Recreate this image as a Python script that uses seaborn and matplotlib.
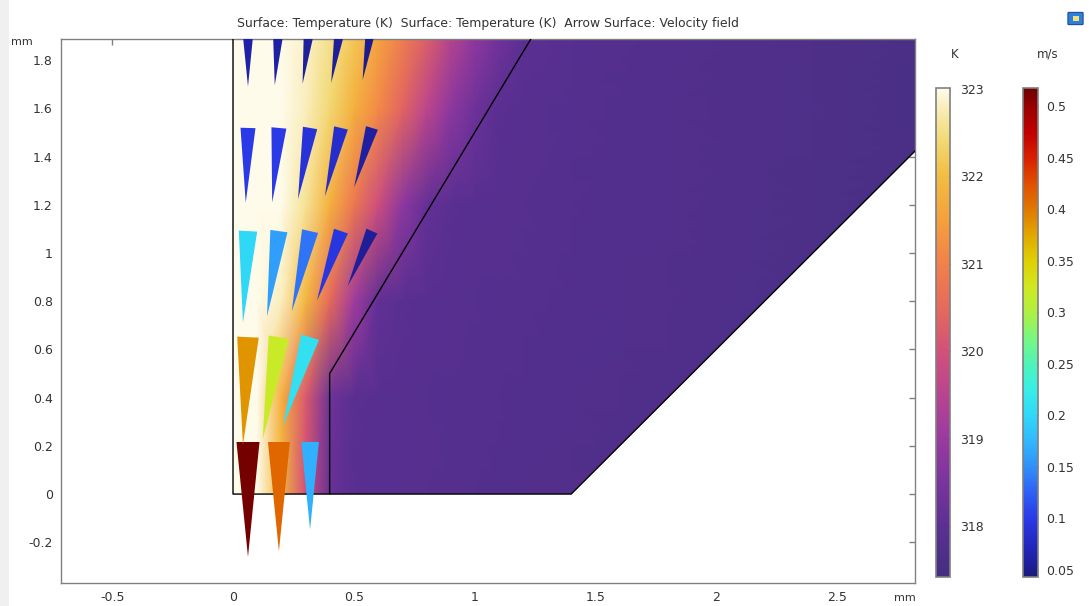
import numpy as np
import matplotlib
matplotlib.use("Agg")
import matplotlib.pyplot as plt
import seaborn as sns
from matplotlib.colors import LinearSegmentedColormap, Normalize
from matplotlib.cm import ScalarMappable
from matplotlib.patches import Polygon, Rectangle, FancyBboxPatch

# ---------------- data ----------------
# temperature (K) sampled on a coarse grid (read from the picture)
x_grid = [0.0, 0.1, 0.2, 0.3, 0.4, 0.5, 0.6, 0.7, 0.8, 0.9, 1.0, 1.1, 1.2, 1.4, 1.8, 2.4, 3.4]
y_grid = [0.0, 0.4, 0.8, 1.2, 1.6, 2.0]
T_y00 = [323.1, 323.0, 321.9, 320.0, 318.2, 317.93, 317.9, 317.88, 317.86, 317.84, 317.82, 317.8, 317.78, 317.75, 317.7, 317.6, 317.45]
T_y04 = [323.1, 323.0, 321.8, 320.2, 318.3, 317.95, 317.91, 317.89, 317.87, 317.85, 317.83, 317.81, 317.8, 317.77, 317.72, 317.62, 317.45]
T_y08 = [323.1, 323.05, 322.8, 321.9, 320.5, 319.1, 318.1, 317.95, 317.9, 317.88, 317.86, 317.85, 317.84, 317.8, 317.74, 317.64, 317.47]
T_y12 = [323.1, 323.05, 323.0, 322.6, 321.8, 320.8, 319.9, 318.8, 318.15, 317.95, 317.9, 317.88, 317.86, 317.83, 317.76, 317.66, 317.48]
T_y16 = [323.1, 323.05, 323.0, 322.8, 322.4, 321.8, 321.15, 320.4, 319.6, 318.8, 318.3, 317.95, 317.9, 317.85, 317.78, 317.68, 317.5]
T_y20 = [323.1, 323.05, 323.0, 322.85, 322.6, 322.25, 321.7, 321.1, 320.5, 319.7, 319.0, 318.5, 318.05, 317.9, 317.8, 317.7, 317.5]

# geometry (mm)
domain_outline = [(0.0, 0.0), (1.4, 0.0), (3.6, 2.2), (3.6, 2.5), (0.0, 2.5)]
boundary_outer = [(0.0, 2.5), (0.0, 0.0), (1.4, 0.0), (3.6, 2.2)]
boundary_inner = [(0.4, 0.0), (0.4, 0.5), (1.6, 2.5)]

# velocity arrows (m/s), grid points in mm
arrow_cols = [0.062, 0.190, 0.319, 0.447, 0.575]
row1_y, row1_u, row1_v = 0.216, [0.0, 0.0, 0.0], [-0.515, -0.41, -0.17]
row2_y, row2_u, row2_v = 0.651, [-0.018, -0.050, -0.061], [-0.385, -0.316, -0.200]
row3_y, row3_u, row3_v = 1.091, [-0.011, -0.022, -0.030, -0.031, -0.022], [-0.200, -0.158, -0.132, -0.090, -0.050]
row4_y, row4_u, row4_v = 1.519, [-0.003, -0.009, -0.015, -0.019, -0.017], [-0.100, -0.0996, -0.0887, -0.081, -0.057]
row5_y, row5_u, row5_v = 1.954, [0.0, -0.004, -0.007, -0.009, -0.008], [-0.063, -0.060, -0.057, -0.055, -0.049]

temp_ticks = [318, 319, 320, 321, 322, 323]
speed_ticks = [0.05, 0.1, 0.15, 0.2, 0.25, 0.3, 0.35, 0.4, 0.45, 0.5]
speed_tick_labels = ["0.05", "0.1", "0.15", "0.2", "0.25", "0.3", "0.35", "0.4", "0.45", "0.5"]
x_ticks = [-0.5, 0, 0.5, 1, 1.5, 2, 2.5]
x_tick_labels = ["-0.5", "0", "0.5", "1", "1.5", "2", "2.5"]
y_ticks = [-0.2, 0, 0.2, 0.4, 0.6, 0.8, 1.0, 1.2, 1.4, 1.6, 1.8]
y_tick_labels = ["-0.2", "0", "0.2", "0.4", "0.6", "0.8", "1", "1.2", "1.4", "1.6", "1.8"]

title = "Surface: Temperature (K)  Surface: Temperature (K)  Arrow Surface: Velocity field"

# colour maps
T_MIN, T_MAX = 317.42, 323.01
temp_levels = [317.42, 318.0, 318.5, 319.0, 319.5, 320.0, 320.5, 321.0, 321.5, 322.0, 322.4, 322.7, 323.01]
temp_colors = ['#432f80', '#5c2f94', '#7a349e', '#9a3aa0', '#b84490', '#d2507a', '#e66a5a',
               '#f2804a', '#f5a03c', '#f3bc40', '#f2d870', '#f8e8a8', '#fefbea']
S_MIN, S_MAX = 0.043, 0.5175
speed_levels = [0.043, 0.05, 0.075, 0.1, 0.125, 0.15, 0.175, 0.2, 0.225, 0.25, 0.275, 0.3, 0.325,
                0.35, 0.375, 0.4, 0.425, 0.45, 0.475, 0.5, 0.5175]
speed_colors = ['#1a1a7a', '#1c1c90', '#2228c0', '#2a3ae8', '#2e60f5', '#3090f8', '#30b8ff', '#30d8f8',
                '#38eee8', '#50f4b8', '#78f880', '#b0f040', '#d0e820', '#e0d000', '#e0a800', '#e07800',
                '#e05000', '#d82000', '#c00000', '#980000', '#700000']

# ---------------- style ----------------
sns.set_style("white")
plt.rcParams['font.family'] = ['DejaVu Sans']
TXT = '#333333'
GREY = '#808080'

def make_cmap(levels, colors, name):
    lo, hi = levels[0], levels[-1]
    return LinearSegmentedColormap.from_list(
        name, [((l - lo) / (hi - lo), c) for l, c in zip(levels, colors)], N=512)

temp_cmap = make_cmap(temp_levels, temp_colors, "heatlight")
speed_cmap = make_cmap(speed_levels, speed_colors, "rainbow_c")
temp_norm = Normalize(T_MIN, T_MAX)
speed_norm = Normalize(S_MIN, S_MAX)

W, H = 1089, 606
fig = plt.figure(figsize=(W / 100, H / 100), dpi=100)
fig.patches.append(Rectangle((0, 0), 9 / W, 1, transform=fig.transFigure,
                             facecolor='#f0f0f0', edgecolor='none', zorder=0))

ax = fig.add_axes([61 / W, 1 - 583 / H, 854 / W, 544 / H])
ax.set_xlim(-0.712, 2.823)
ax.set_ylim(-0.369, 1.888)

# temperature surface
T = np.array([T_y00, T_y04, T_y08, T_y12, T_y16, T_y20])
mesh = ax.pcolormesh(np.array(x_grid), np.array(y_grid), T, shading='gouraud',
                     cmap=temp_cmap, norm=temp_norm, zorder=1)
dom = Polygon(domain_outline, closed=True, facecolor='none', edgecolor='none',
              transform=ax.transData)
ax.add_patch(dom)
mesh.set_clip_path(dom)

# boundaries
bx, by = zip(*boundary_outer)
ax.plot(bx, by, color='black', lw=1.0, zorder=3)
ix, iy = zip(*boundary_inner)
ax.plot(ix, iy, color='black', lw=1.0, zorder=3)

# arrows (cone, logarithmic length)
PX = 241.3
def arrow_len(s):
    return (115 + 24.5 * np.log(s / 0.515)) / PX

rows = [(row1_y, row1_u, row1_v), (row2_y, row2_u, row2_v), (row3_y, row3_u, row3_v),
        (row4_y, row4_u, row4_v), (row5_y, row5_u, row5_v)]
for ry, us, vs in rows:
    for cx, u, v in zip(arrow_cols, us, vs):
        s = np.hypot(u, v)
        d = np.array([u, v]) / s
        n = np.array([-d[1], d[0]])
        L = arrow_len(s)
        w = 0.2 * L
        p0 = np.array([cx, ry])
        tri = [p0 + n * w / 2, p0 - n * w / 2, p0 + d * L]
        ax.add_patch(Polygon(tri, closed=True, facecolor=speed_cmap(speed_norm(s)),
                             edgecolor='none', zorder=4, antialiased=True))

# axes style
for sp in ax.spines.values():
    sp.set_color(GREY)
    sp.set_linewidth(1.0)
ax.set_xticks(x_ticks)
ax.set_xticklabels(x_tick_labels)
ax.set_yticks(y_ticks)
ax.set_yticklabels(y_tick_labels)
ax.tick_params(direction='in', length=4, width=1, color=GREY, labelcolor=TXT,
               labelsize=9, top=True, right=True, pad=6)
ax.tick_params(axis='y', pad=6)
fig.text(905 / W, 1 - 598 / H, "mm", fontsize=8, color=TXT, ha='center', va='center')
fig.text(22 / W, 1 - 42 / H, "mm", fontsize=8, color=TXT, ha='center', va='center')
fig.text(488 / W, 1 - 24 / H, title, fontsize=8.9, color=TXT, ha='center', va='center')

# colorbars
def add_cbar(left_px, width_px, cmap, norm, ticks, labels, unit, unit_x, pad):
    cax = fig.add_axes([left_px / W, 1 - 577 / H, width_px / W, 489 / H])
    cb = fig.colorbar(ScalarMappable(norm=norm, cmap=cmap), cax=cax)
    cb.set_ticks(ticks)
    if labels is not None:
        cb.set_ticklabels(labels)
    cb.outline.set_edgecolor(GREY)
    cb.outline.set_linewidth(1.2)
    cax.tick_params(direction='in', length=3, width=1, color='#222222', left=True, right=True,
                    labelsize=9, labelcolor=TXT, pad=pad)
    fig.text(unit_x / W, 1 - 54 / H, unit, fontsize=8.5, color=TXT, ha='center', va='center')
    return cb

add_cbar(936, 14, temp_cmap, temp_norm, temp_ticks, None, "K", 955, 7)
add_cbar(1023, 15, speed_cmap, speed_norm, speed_ticks, speed_tick_labels, "m/s", 1048, 6)

# small icon top-right
fig.patches.append(FancyBboxPatch((1069 / W, 1 - 24 / H), 13 / W, 11 / H,
                                  boxstyle="round,pad=0.001", transform=fig.transFigure,
                                  facecolor='#2f7fd8', edgecolor='#1a4f9a', lw=0.8))
fig.patches.append(Rectangle((1073 / W, 1 - 21 / H), 6 / W, 5 / H, transform=fig.transFigure,
                             facecolor='#f2e27a', edgecolor='none'))

fig.savefig("out.png", dpi=100)
